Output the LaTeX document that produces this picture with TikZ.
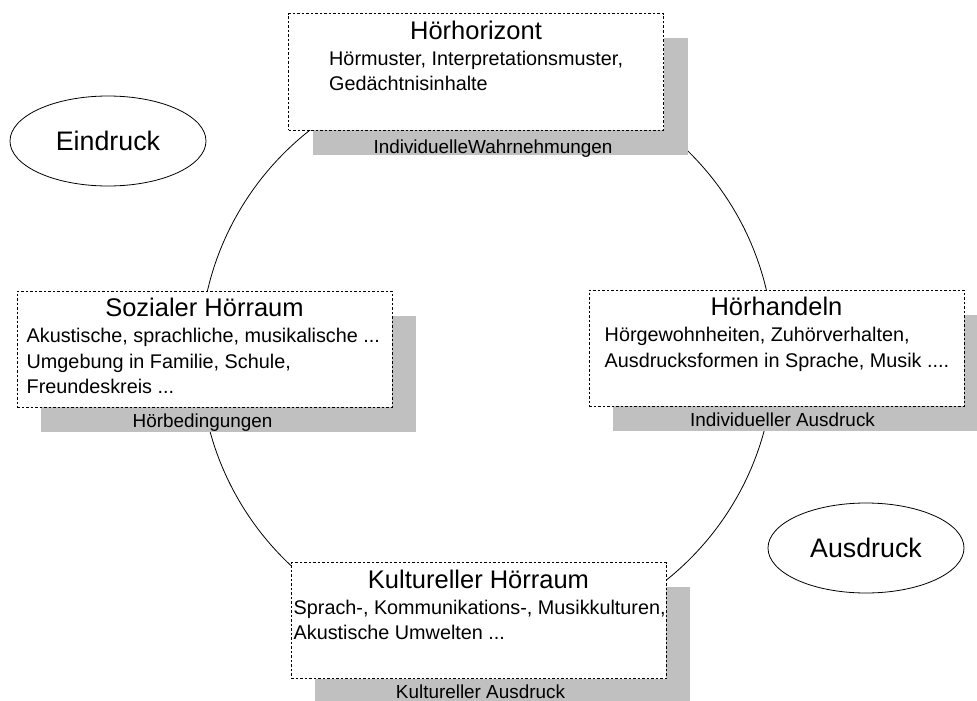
\documentclass[tikz,border=0pt]{standalone}
\usepackage{fontspec}
\setmainfont{Liberation Sans}
\usepackage{tikz}
\usetikzlibrary{positioning}
\usetikzlibrary{shapes.geometric}
\usetikzlibrary{shadows}
\definecolor{schattenGrau}{RGB}{192,192,192}
\tikzstyle{feld} = [draw, fill=white, line width=1pt, dash pattern=on 2.5pt off 2pt,
    minimum width=375pt, minimum height=116pt, inner sep=0pt,
    drop shadow={shadow xshift=24pt, shadow yshift=-24.5pt, fill=schattenGrau, opacity=1}]
\tikzstyle{titel} = [font=\fontsize{25.5}{30}\selectfont, inner sep=0pt, anchor=base]
\tikzstyle{inhalt} = [font=\fontsize{19.8}{25.5}\selectfont, inner sep=0pt, anchor=base west]
\tikzstyle{etikett} = [font=\fontsize{18.9}{21}\selectfont, inner sep=0pt, anchor=base]
\tikzstyle{wolke} = [draw, ellipse, line width=0.8pt, minimum width=196pt, minimum height=90pt,
    inner sep=0pt, font=\fontsize{26.8}{31}\selectfont]

\begin{document}
\begin{tikzpicture}[x=1pt, y=-1pt]

    \useasboundingbox (0,0) rectangle (977,701);
    \clip (0,0) rectangle (977,701); % Cuts the shadow on the right

    \coordinate (mitte) at (487,356);
    \draw [line width=0.8pt] (mitte) circle [radius=287pt];

    % the four boxes with their shadows
    \node[feld] (hhor) at (476,72) {};
    \node[feld] (srau) at (204.5,349) {};
    \node[feld] (hhan) at (776.5,348) {};
    \node[feld] (krau) at (478.5,620.5) {};

    \node[titel] (hhorT) at ([yshift=-26pt]hhor.north) {Hörhorizont};
    \node[titel] (srauT) at ([yshift=-26pt]srau.north) {Sozialer Hörraum};
    \node[titel] (hhanT) at ([yshift=-26pt]hhan.north) {Hörhandeln};
    \node[titel] (krauT) at ([yshift=-26pt]krau.north) {Kultureller Hörraum};

    \node[inhalt] (hhorI) at ([xshift=41pt,yshift=-52pt]hhor.north west)
        {\parbox[t]{420pt}{Hörmuster, Interpretationsmuster,\\Gedächtnisinhalte}};
    \node[inhalt] (srauI) at ([xshift=10pt,yshift=-52pt]srau.north west)
        {\parbox[t]{420pt}{Akustische, sprachliche, musikalische ...\\Umgebung in Familie, Schule,\\Freundeskreis ...}};
    \node[inhalt] (hhanI) at ([xshift=16pt,yshift=-52pt]hhan.north west)
        {\parbox[t]{420pt}{Hörgewohnheiten, Zuhörverhalten,\\Ausdrucksformen in Sprache, Musik ....}};
    \node[inhalt] (krauI) at ([xshift=3pt,yshift=-52pt]krau.north west)
        {\parbox[t]{420pt}{Sprach-, Kommunikations-, Musikkulturen,\\Akustische Umwelten ...}};

    % labels on the shadows
    \node[etikett] (hhorL) at ([xshift=17pt,yshift=-22.5pt]hhor.south) {IndividuelleWahrnehmungen};
    \node[etikett] (srauL) at ([xshift=-2pt,yshift=-19.5pt]srau.south) {Hörbedingungen};
    \node[etikett] (hhanL) at ([xshift=6pt,yshift=-19.5pt]hhan.south) {Individueller Ausdruck};
    \node[etikett] (krauL) at ([xshift=2pt,yshift=-19.5pt]krau.south) {Kultureller Ausdruck};

    \node[wolke] (eindruck) at (108,141) {Eindruck};
    \node[wolke] (ausdruck) at (866,548) {Ausdruck};

\end{tikzpicture}
\end{document}
